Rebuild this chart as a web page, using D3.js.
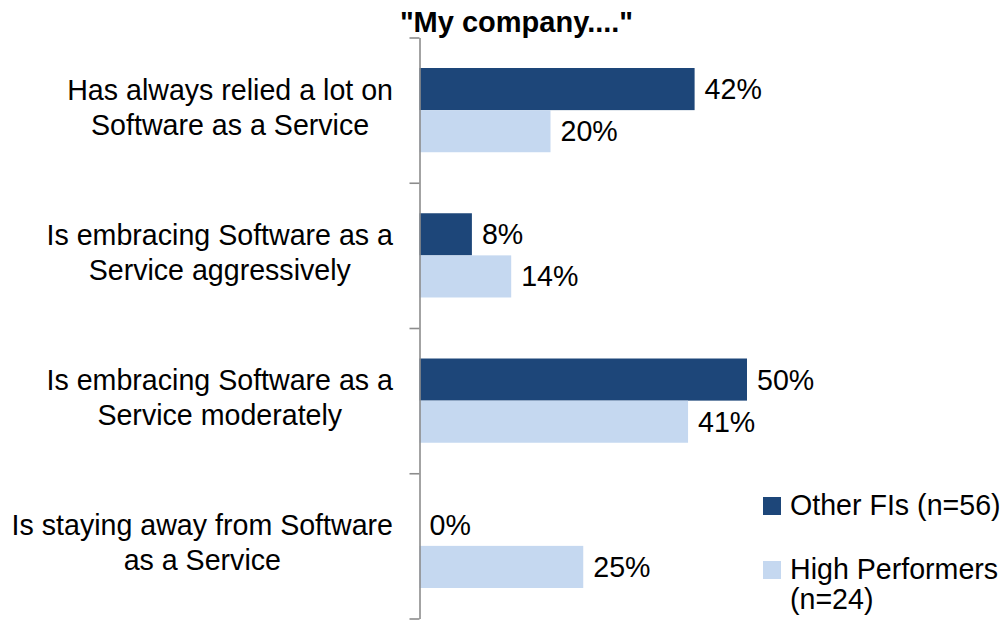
<!DOCTYPE html>
<html>
<head>
<meta charset="utf-8">
<script src="https://cdn.jsdelivr.net/npm/d3@7/dist/d3.min.js"></script>
<style>
  html, body { margin: 0; padding: 0; background: #ffffff; }
  svg { display: block; }
  text { font-family: "Liberation Sans", Arial, Helvetica, sans-serif; fill: #000; }
</style>
</head>
<body>
<svg id="chart" width="1003" height="620"></svg>
<script>
// Survey categories (each entry is the wrapped label lines)
const categories = [
  "Has always relied a lot on Software as a Service",
  "Is embracing Software as a Service aggressively",
  "Is embracing Software as a Service moderately",
  "Is staying away from Software as a Service"
];
const categoryLines = [
  ["Has always relied a lot on", "Software as a Service"],
  ["Is embracing Software as a", "Service aggressively"],
  ["Is embracing Software as a", "Service moderately"],
  ["Is staying away from Software", "as a Service"]
];

// Series values (percent of respondents)
const seriesKeys = ["other", "high"];
const seriesNames = ["Other FIs (n=56)", "High Performers (n=24)"];
const seriesLegendLines = [["Other FIs (n=56)"], ["High Performers", "(n=24)"]];
const otherFIs = [42, 8, 50, 0];
const highPerformers = [20, 14, 41, 25];
const seriesValues = [otherFIs, highPerformers];
const seriesColors = ["#1d4679", "#c5d8f0"];

const title = "\"My company....\"";

const svg = d3.select("#chart");

// Layout
const axisX = 419.5;
const plotTop = 37.5, plotBottom = 618.5;
const fontSize = 28.6;

const y0 = d3.scaleBand()
  .domain(categories)
  .range([plotTop, plotBottom])
  .paddingInner(0.42)
  .paddingOuter(0.21);

const y1 = d3.scaleBand()
  .domain(seriesKeys)
  .range([0, y0.bandwidth()]);

const x = d3.scaleLinear()
  .domain([0, 50])
  .range([axisX, 747]);

// Title
svg.append("text")
  .attr("x", 516.5)
  .attr("y", 32)
  .attr("text-anchor", "middle")
  .style("font-size", "29px")
  .style("font-weight", "bold")
  .text(title);

// Bars
const rows = categories.map((c, i) => ({
  cat: c,
  values: seriesKeys.map((k, s) => ({ key: k, value: seriesValues[s][i], color: seriesColors[s] }))
}));

const groups = svg.append("g").selectAll("g")
  .data(rows)
  .join("g")
  .attr("transform", d => `translate(0,${y0(d.cat)})`);

groups.selectAll("rect")
  .data(d => d.values)
  .join("rect")
  .attr("x", d => x(0))
  .attr("y", d => y1(d.key))
  .attr("width", d => x(d.value) - x(0))
  .attr("height", y1.bandwidth())
  .attr("fill", d => d.color);

// Value labels
groups.selectAll("text.value")
  .data(d => d.values)
  .join("text")
  .attr("class", "value")
  .attr("x", d => x(d.value) + 10)
  .attr("y", d => y1(d.key) + y1.bandwidth() / 2)
  .attr("dy", "0.35em")
  .style("font-size", fontSize + "px")
  .text(d => d.value + "%");

// Category axis: ticks at the band boundaries
const boundary = d3.scaleLinear()
  .domain([0, categories.length])
  .range([plotTop, plotBottom]);

const axis = svg.append("g")
  .attr("transform", `translate(${axisX},0)`)
  .call(d3.axisLeft(boundary)
    .tickValues(d3.range(categories.length + 1))
    .tickFormat("")
    .tickSize(10)
    .tickSizeOuter(0));
axis.select(".domain").attr("stroke", "#8c8c8c").attr("stroke-width", 1.6);
axis.selectAll(".tick line").attr("stroke", "#8c8c8c").attr("stroke-width", 1.6);

// Category labels: lines centred on each other, block right-aligned to the axis
const labelRight = 393;
categoryLines.forEach((lines, i) => {
  const cy = y0(categories[i]) + y0.bandwidth() / 2;
  const g = svg.append("g");
  const texts = lines.map((line, j) =>
    g.append("text")
      .attr("y", cy - 10.5 + j * 35)
      .attr("text-anchor", "middle")
      .style("font-size", fontSize + "px")
      .text(line));
  const maxW = d3.max(texts, t => t.node().getComputedTextLength());
  texts.forEach(t => t.attr("x", labelRight - maxW / 2));
});

// Legend
const legendY = [506, 570];
const legend = svg.append("g");
seriesNames.forEach((name, s) => {
  legend.append("rect")
    .attr("x", 763)
    .attr("y", legendY[s] - 9)
    .attr("width", 18)
    .attr("height", 18)
    .attr("fill", seriesColors[s]);
  seriesLegendLines[s].forEach((line, j) => {
    legend.append("text")
      .attr("x", 790)
      .attr("y", legendY[s] + 9 + j * 30)
      .style("font-size", fontSize + "px")
      .text(line);
  });
});
</script>
</body>
</html>
